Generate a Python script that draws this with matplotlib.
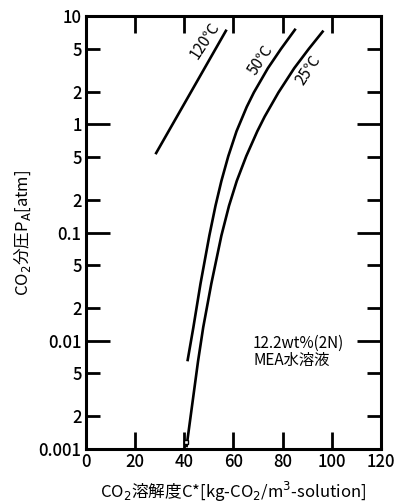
import matplotlib
matplotlib.use('Agg')
import matplotlib.pyplot as plt

# one family list so the CJK glyphs and the digits share a font
plt.rcParams['font.family'] = ['Noto Sans CJK JP', 'DejaVu Sans']

# CO2 solubility curves
x_25 = [40.9, 45.6, 47.7, 51.0, 55.1, 58.2, 61.35, 65.2, 69.7, 72.7, 78.3, 84.7, 90.6, 96.6]
p_25 = [0.00104, 0.00647, 0.0133, 0.0337, 0.0938, 0.177, 0.300, 0.508, 0.863, 1.18, 1.97, 3.30, 4.97, 7.35]
x_50 = [41.3, 43.7, 46.6, 50.2, 52.7, 55.1, 57.9, 61.25, 65.4, 68.3, 74.0, 79.3, 85.3]
p_50 = [0.00647, 0.0133, 0.0337, 0.0938, 0.177, 0.300, 0.508, 0.863, 1.45, 1.97, 3.30, 4.97, 7.65]
x_120 = [28.3, 57.2]
p_120 = [0.53, 7.5]
x_mark = [40.6]
p_mark = [0.00115]

x_ticks = [0, 20, 40, 60, 80, 100, 120]
y_major = [0.001, 0.01, 0.1, 1, 10]
y_major_labels = ['0.001', '0.01', '0.1', '1', '10']
y_minor = [0.002, 0.005, 0.02, 0.05, 0.2, 0.5, 2, 5]
y_minor_labels = ['2', '5', '2', '5', '2', '5', '2', '5']

fig = plt.figure(figsize=(3.94, 5.04), dpi=100)
ax = fig.add_axes([0.218, 0.109, 0.749, 0.859])

lw = 1.9
ax.plot(x_25, p_25, color='black', lw=lw, solid_capstyle='butt')
ax.plot(x_50, p_50, color='black', lw=lw, solid_capstyle='butt')
ax.plot(x_120, p_120, color='black', lw=lw, solid_capstyle='butt')
ax.plot(x_mark, p_mark, ls='none', marker='s', ms=3.5, mfc='white', mec='black', mew=1.0)

ax.set_yscale('log')
ax.set_xlim(0, 120)
ax.set_ylim(0.001, 10)

ax.set_xticks(x_ticks)
ax.set_xticklabels([str(t) for t in x_ticks])
ax.set_yticks(y_major)
ax.set_yticklabels(y_major_labels)
ax.set_yticks(y_minor, minor=True)
ax.set_yticklabels(y_minor_labels, minor=True)
ax.xaxis.set_minor_locator(matplotlib.ticker.NullLocator())

for s in ax.spines.values():
    s.set_linewidth(2.2)

ax.tick_params(axis='x', which='major', direction='in', length=12, width=2.0,
               top=True, labelsize=12, pad=3)
ax.tick_params(axis='y', which='major', direction='in', length=17, width=2.0,
               right=True, labelsize=12, pad=3)
ax.tick_params(axis='y', which='minor', direction='in', length=10, width=2.0,
               right=True, labelsize=12, pad=3)
for lab in ax.get_xticklabels() + ax.get_yticklabels() + ax.get_yticklabels(minor=True):
    lab.set_fontweight('medium')

ax.set_xlabel('CO$_2$溶解度C*[kg-CO$_2$/m$^3$-solution]', fontsize=12, labelpad=6)
ax.set_ylabel('CO$_2$分圧P$_\\mathrm{A}$[atm]', fontsize=12, labelpad=4)

ax.text(48.4, 5.9, '120℃', rotation=57, ha='center', va='center', fontsize=11)
ax.text(70.8, 3.9, '50℃', rotation=57, ha='center', va='center', fontsize=11)
ax.text(90.6, 3.2, '25℃', rotation=57, ha='center', va='center', fontsize=11)
ax.text(68, 0.0079, '12.2wt%(2N)\nMEA水溶液', ha='left', va='center',
        fontsize=11, linespacing=1.05)

fig.savefig('out.png', dpi=100)
